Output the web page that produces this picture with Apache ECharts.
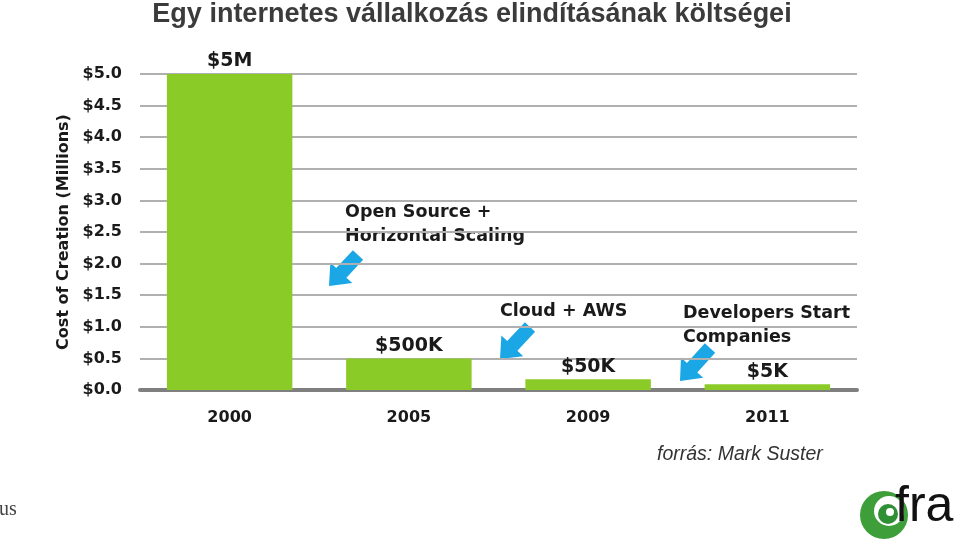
<!DOCTYPE html>
<html>
<head>
<meta charset="utf-8">
<script src="https://cdn.jsdelivr.net/npm/echarts@6/dist/echarts.min.js"></script>
<style>html,body{margin:0;padding:0;background:#fff;}#c{width:960px;height:548px;}</style>
</head>
<body>
<div id="c"></div>
<script>
const years = ['2000', '2005', '2009', '2011'];
const costMillions = [5.0, 0.5, 0.17, 0.09];
const costLabels = ['$5M', '$500K', '$50K', '$5K'];
const yTickLabels = ['$0.0','$0.5','$1.0','$1.5','$2.0','$2.5','$3.0','$3.5','$4.0','$4.5','$5.0'];

const chart = echarts.init(document.getElementById('c'));
const F = '"DejaVu Sans", sans-serif';
const blue = '#1ba6e6';

function arrow(tip, tail, shaftW, headW, headL) {
  const dx = tail[0] - tip[0], dy = tail[1] - tip[1];
  const L = Math.hypot(dx, dy);
  const ux = dx / L, uy = dy / L;
  const px = -uy, py = ux;
  const p = (a, b) => [tip[0] + ux * a + px * b, tip[1] + uy * a + py * b];
  return {
    type: 'polygon',
    shape: { points: [p(0, 0), p(headL, headW / 2), p(headL, shaftW / 2), p(L, shaftW / 2), p(L, -shaftW / 2), p(headL, -shaftW / 2), p(headL, -headW / 2)] },
    style: { fill: blue }
  };
}

chart.setOption({
  animation: false,
  title: {
    text: 'Egy internetes vállalkozás elindításának költségei',
    left: 467, textAlign: 'center', top: -4,
    textStyle: { fontFamily: '"Liberation Sans", sans-serif', fontWeight: 'bold', fontSize: 27, color: '#3b3b3b' }
  },
  grid: { left: 140, right: 103, top: 74, bottom: 158 },
  xAxis: {
    type: 'category', data: years,
    axisLine: { lineStyle: { color: '#7f7f7f', width: 4 } },
    axisTick: { show: false },
    axisLabel: { fontFamily: F, fontWeight: 'bold', fontSize: 16, color: '#1a1a1a', margin: 20 }
  },
  yAxis: {
    type: 'value', min: 0, max: 5, interval: 0.5,
    name: 'Cost of Creation (Millions)', nameLocation: 'middle', nameGap: 68, nameRotate: 90,
    nameTextStyle: { fontFamily: F, fontWeight: 'bold', fontSize: 16, color: '#1a1a1a' },
    axisLine: { show: false }, axisTick: { show: false },
    axisLabel: {
      fontFamily: F, fontWeight: 'bold', fontSize: 16, color: '#1a1a1a', margin: 18,
      formatter: (v) => yTickLabels[Math.round(v / 0.5)]
    },
    splitLine: { lineStyle: { color: '#b0b0b0', width: 2 } }
  },
  series: [{
    type: 'bar', data: costMillions, barWidth: '70%',
    itemStyle: { color: '#8bcb28' },
    label: {
      show: true, position: 'top', distance: 3,
      fontFamily: F, fontWeight: 'bold', fontSize: 19, color: '#1a1a1a',
      formatter: (p) => costLabels[p.dataIndex]
    }
  }],
  graphic: [
    { type: 'text', left: 345, top: 200, style: { text: 'Open Source +\nHorizontal Scaling', font: 'bold 17.5px "DejaVu Sans"', fill: '#1a1a1a', lineHeight: 24 } },
    { type: 'text', left: 500, top: 302, style: { text: 'Cloud + AWS', font: 'bold 17.5px "DejaVu Sans"', fill: '#1a1a1a' } },
    { type: 'text', left: 683, top: 301, style: { text: 'Developers Start\nCompanies', font: 'bold 17.5px "DejaVu Sans"', fill: '#1a1a1a', lineHeight: 24 } },
    arrow([329, 286], [358, 255], 14, 30, 18),
    arrow([500, 359], [530, 327], 14, 30, 18),
    arrow([680, 381], [710, 348], 14, 30, 18),
    { type: 'text', left: 657, top: 445, style: { text: 'forrás: Mark Suster', font: 'italic 19.5px "Liberation Sans"', fill: '#333' } },
    { type: 'text', left: -1, top: 500, style: { text: 'us', font: '20px "Liberation Serif"', fill: '#444' } },
    { type: 'circle', shape: { cx: 884, cy: 515, r: 24 }, style: { fill: '#3e9e3a' } },
    { type: 'circle', shape: { cx: 889, cy: 511, r: 15 }, style: { fill: '#fff' } },
    { type: 'circle', shape: { cx: 888, cy: 514, r: 10 }, style: { fill: '#2f8f34' } },
    { type: 'circle', shape: { cx: 890, cy: 512, r: 4 }, style: { fill: '#fff' } },
    { type: 'text', left: 895, top: 482, style: { text: 'fra', font: '50px "Liberation Sans"', fill: '#111' } }
  ]
});
</script>
</body>
</html>
